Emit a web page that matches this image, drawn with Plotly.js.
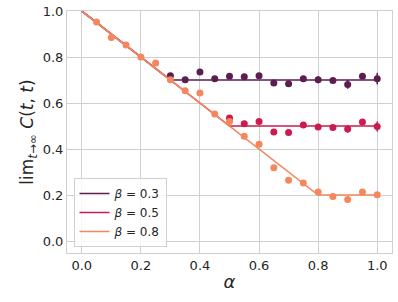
<!DOCTYPE html>
<html>
<head>
<meta charset="utf-8">
<script src="https://cdn.plot.ly/plotly-3.0.1.min.js"></script>
<style>html,body{margin:0;padding:0;background:#fff;}#chart{width:398px;height:302px;}</style>
</head>
<body>
<div id="chart"></div>
<script>
// Simulation points
const alpha03 = [0.30,0.35,0.40,0.45,0.50,0.55,0.60,0.65,0.70,0.75,0.80,0.85,0.90,0.95,1.00];
const c03 =     [0.719,0.701,0.735,0.706,0.716,0.714,0.719,0.687,0.684,0.706,0.701,0.698,0.681,0.716,0.706];
const err03 =   [0.006,0.005,0.006,0.005,0.006,0.006,0.007,0.007,0.007,0.008,0.015,0.010,0.019,0.010,0.025];

const alpha05 = [0.50,0.55,0.60,0.65,0.70,0.75,0.80,0.85,0.90,0.95,1.00];
const c05 =     [0.535,0.510,0.520,0.474,0.472,0.504,0.496,0.494,0.487,0.517,0.498];
const err05 =   [0.006,0.006,0.006,0.006,0.006,0.007,0.010,0.010,0.016,0.008,0.022];

const alpha08 = [0.05,0.10,0.15,0.20,0.25,0.30,0.35,0.40,0.45,0.50,0.55,0.60,0.65,0.70,0.75,0.80,0.85,0.90,0.95,1.00];
const c08 =     [0.952,0.885,0.852,0.800,0.774,0.701,0.653,0.643,0.552,0.520,0.455,0.421,0.319,0.264,0.252,0.213,0.194,0.181,0.213,0.201];

// Theory lines
const thX03 = [0, 0.3, 1.0]; const thY03 = [1, 0.7, 0.7];
const thX05 = [0, 0.5, 1.0]; const thY05 = [1, 0.5, 0.5];
const thX08 = [0, 0.8, 1.0]; const thY08 = [1, 0.2, 0.2];

const tickVals = [0, 0.2, 0.4, 0.6, 0.8, 1.0];
const tickText = ['0.0', '0.2', '0.4', '0.6', '0.8', '1.0'];
const betaLabels = ['<i>β</i> = 0.3', '<i>β</i> = 0.5', '<i>β</i> = 0.8'];
const colors = ['#5c1e51', '#cb1b4f', '#f4875e'];

const traces = [];
const lines = [[thX03, thY03], [thX05, thY05], [thX08, thY08]];
const pts = [[alpha03, c03, err03], [alpha05, c05, err05], [alpha08, c08, null]];
for (let i = 0; i < 3; i++) {
  traces.push({
    x: lines[i][0], y: lines[i][1], mode: 'lines', name: betaLabels[i],
    line: {color: colors[i], width: 1.6}, showlegend: true, hoverinfo: 'skip'
  });
  const t = {
    x: pts[i][0], y: pts[i][1], mode: 'markers', showlegend: false,
    marker: {color: colors[i], size: 7, line: {width: 0}}
  };
  if (pts[i][2]) t.error_y = {type: 'data', array: pts[i][2], visible: true, color: colors[i], thickness: 1.6, width: 0};
  traces.push(t);
}

const layout = {
  width: 398, height: 302,
  margin: {l: 67, r: 6, t: 11, b: 49},
  paper_bgcolor: '#fff', plot_bgcolor: '#fff',
  font: {family: 'DejaVu Sans', color: '#262626', size: 13},
  showlegend: true,
  xaxis: {
    range: [-0.05, 1.05], tickvals: tickVals, ticktext: tickText,
    showgrid: true, gridcolor: '#d0d0d0', gridwidth: 1, zeroline: false,
    showline: true, linecolor: '#d0d0d0', mirror: true, ticks: '', ticklen: 0,
    tickfont: {size: 13, color: '#262626'},
    title: {text: '<i>α</i>', font: {size: 18, color: '#262626'}, standoff: 3}
  },
  yaxis: {
    range: [-0.052, 1.0], tickvals: tickVals, ticktext: tickText,
    showgrid: true, gridcolor: '#d0d0d0', gridwidth: 1, zeroline: false,
    showline: true, linecolor: '#d0d0d0', mirror: true, ticks: '', ticklen: 0,
    tickfont: {size: 13, color: '#262626'},
    title: {text: 'lim<sub><i>t</i>→∞</sub> <i>C</i>(<i>t</i>, <i>t</i>)', font: {size: 17, color: '#262626'}, standoff: 4}
  },
  legend: {
    x: 0.02, y: 0.025, xanchor: 'left', yanchor: 'bottom',
    bgcolor: 'rgba(255,255,255,0.8)', bordercolor: '#d0d0d0', borderwidth: 1,
    font: {size: 12, color: '#262626'}, itemwidth: 30, tracegroupgap: 0
  }
};

Plotly.newPlot('chart', traces, layout, {staticPlot: true, displayModeBar: false});
</script>
</body>
</html>
